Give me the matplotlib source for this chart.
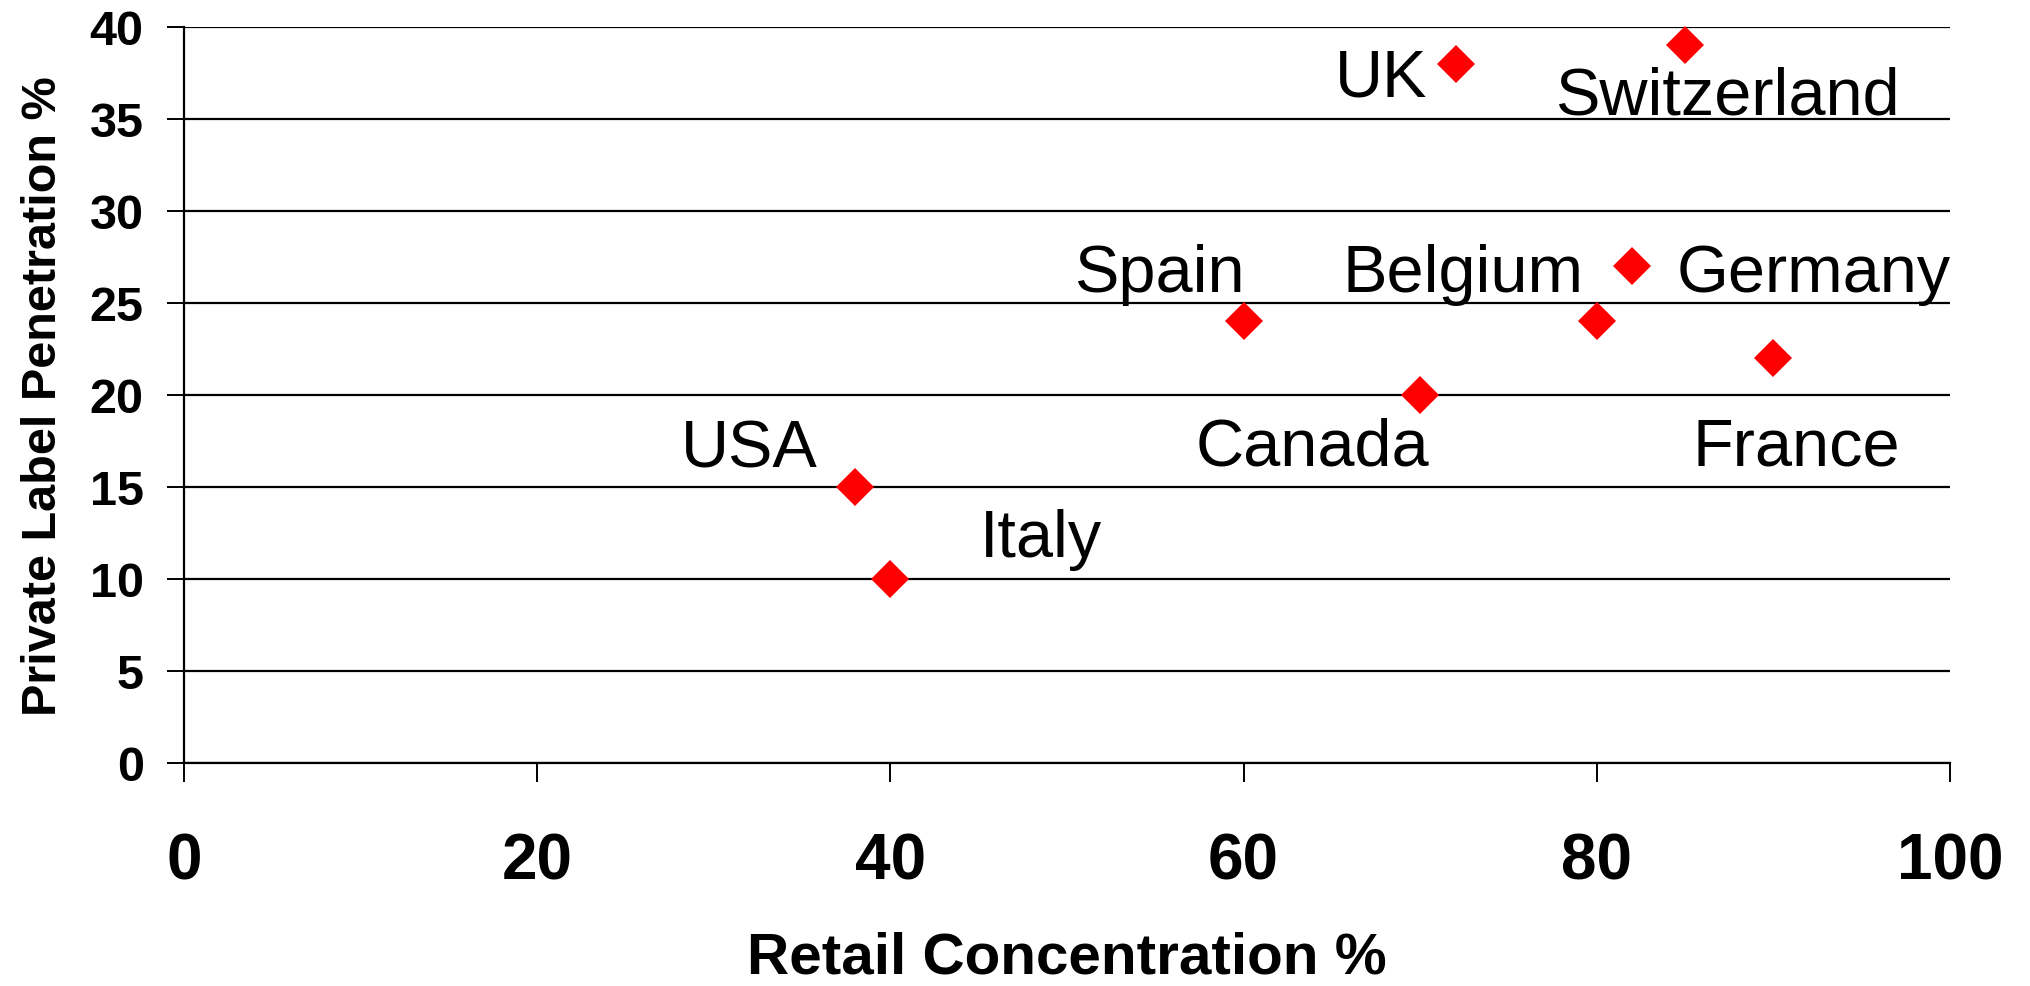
import matplotlib
matplotlib.use('Agg')
import matplotlib.pyplot as plt

countries = ['USA', 'Italy', 'Spain', 'Canada', 'UK', 'Switzerland', 'Belgium', 'Germany', 'France']
retail_conc = [38, 40, 60, 70, 72, 85, 80, 82, 90]
private_label = [15, 10, 24, 20, 38, 39, 24, 27, 22]

x_ticks = [0, 20, 40, 60, 80, 100]
y_ticks = [0, 5, 10, 15, 20, 25, 30, 35, 40]

# where each country name sits, as offset from its point (data units)
label_offsets = {
    'USA': (-6.0, 1.1),
    'Italy': (8.5, 1.25),
    'Spain': (-4.8, 1.65),
    'Canada': (-6.1, -3.8),
    'UK': (-4.2, -1.7),
    'Switzerland': (2.4, -3.7),
    'Belgium': (-7.6, 1.65),
    'Germany': (10.3, -1.35),
    'France': (1.3, -5.8),
}

plt.rcParams['font.family'] = ['Liberation Sans', 'DejaVu Sans']

fig = plt.figure(figsize=(20.3, 9.87), dpi=100)
ax = fig.add_axes([184 / 2030, 1 - 764 / 987, 1766 / 2030, 736 / 987])

ax.plot(retail_conc, private_label, linestyle='none', marker='D',
        markersize=19, color='red', markeredgewidth=0, zorder=3, clip_on=False)

for name, x, y in zip(countries, retail_conc, private_label):
    dx, dy = label_offsets[name]
    ax.text(x + dx, y + dy, name, ha='center', va='baseline', fontsize=48, color='black')

ax.set_xlim(0, 100)
ax.set_ylim(0, 40)
ax.set_xticks(x_ticks)
ax.set_yticks(y_ticks)
ax.yaxis.grid(True, color='black', linewidth=1.6)
ax.set_axisbelow(True)

for s in ['top', 'right']:
    ax.spines[s].set_visible(False)
ax.spines['left'].set_linewidth(1.6)
ax.spines['bottom'].set_linewidth(1.6)

ax.tick_params(axis='y', direction='out', length=12, width=1.4, pad=17, labelsize=35)
ax.tick_params(axis='x', direction='out', length=14, width=1.4, pad=35, labelsize=46)
for lab in ax.get_xticklabels() + ax.get_yticklabels():
    lab.set_fontweight('bold')

ax.set_xlabel('Retail Concentration %', fontsize=42, fontweight='bold')
ax.set_ylabel('Private Label Penetration %', fontsize=35, fontweight='bold')
ax.xaxis.set_label_coords(0.5, (764 - 932) / 736)
ax.yaxis.set_label_coords((66 - 184) / 1766, 0.5)

fig.savefig('out.png', dpi=100)
